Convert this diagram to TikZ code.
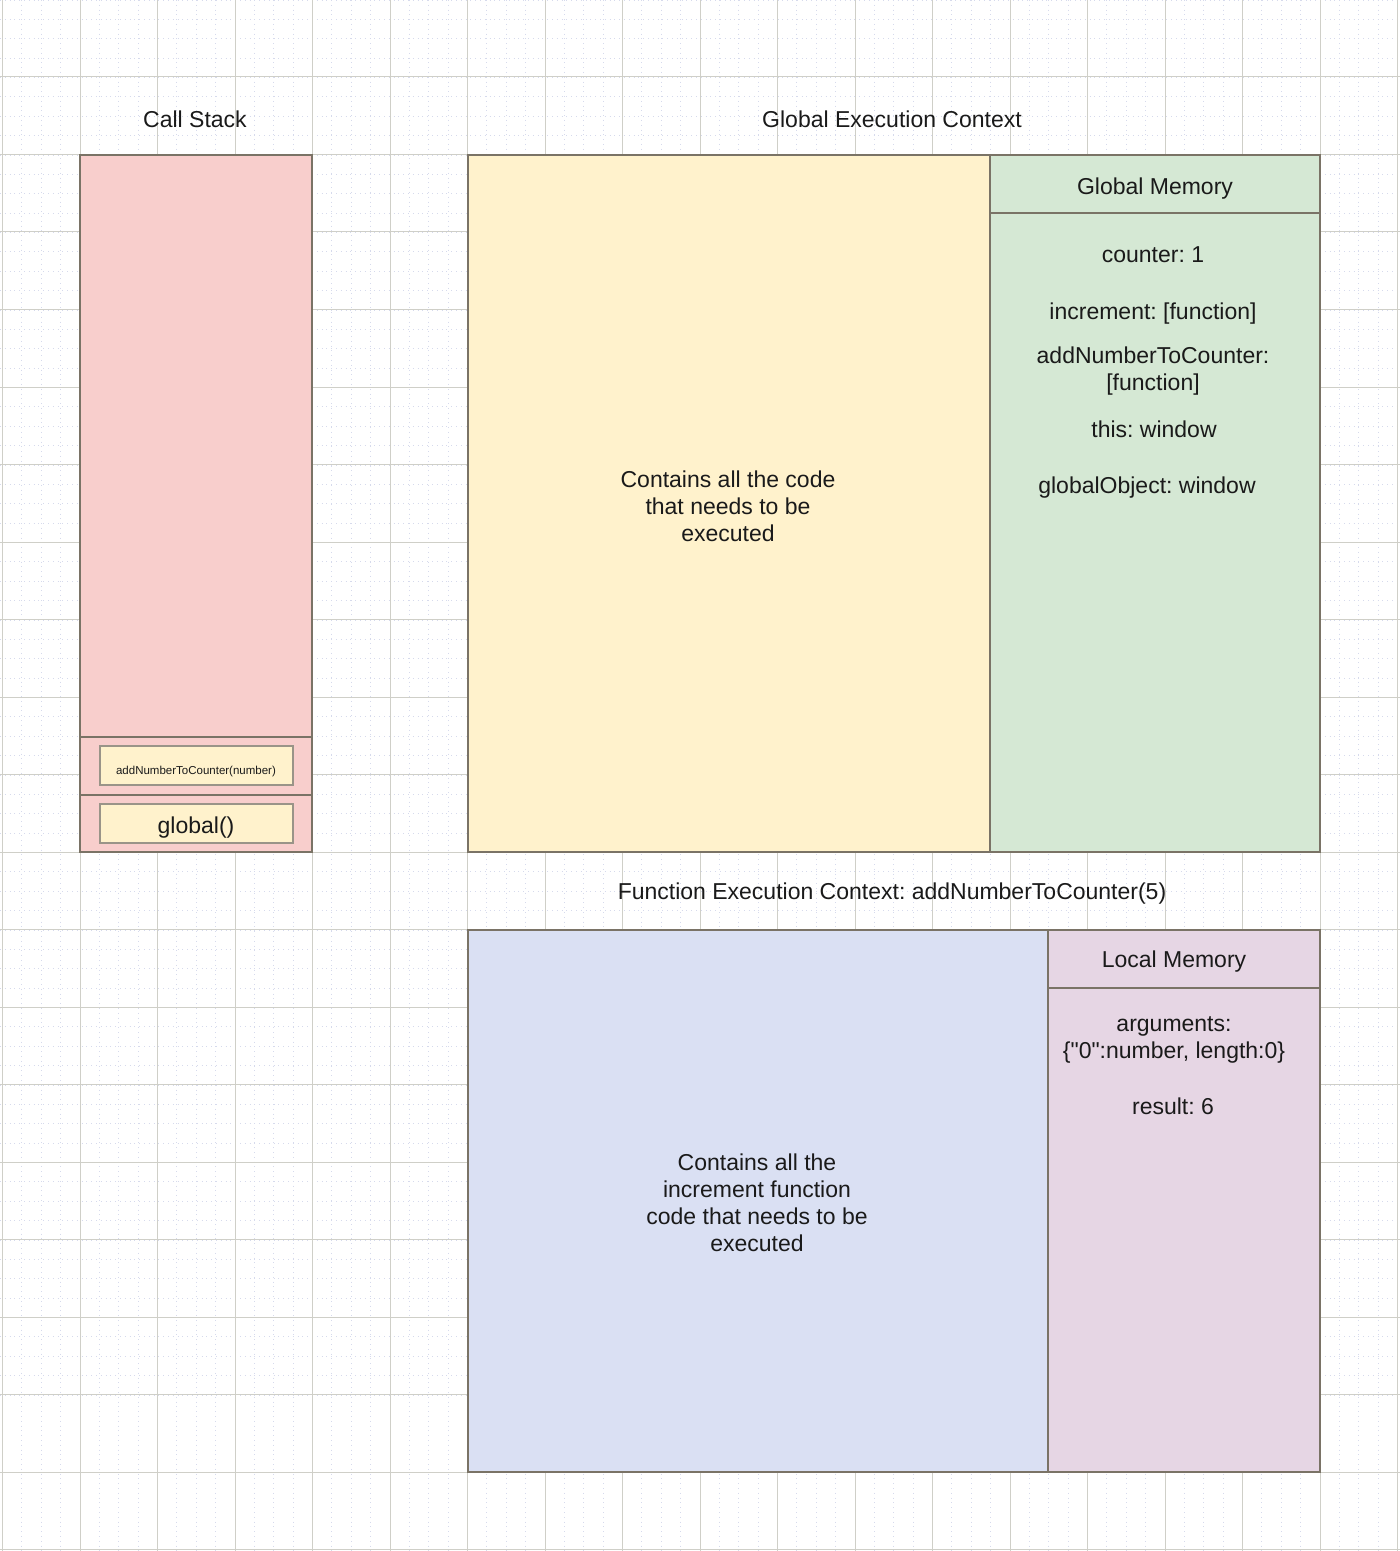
\documentclass[tikz,border=0pt]{standalone}
\usepackage{fontspec}
\setmainfont{Liberation Sans}
\newfontfamily\qfont{Liberation Sans}
\definecolor{strokec}{HTML}{7A7366}
\definecolor{innerstroke}{HTML}{9A9488}
\definecolor{pinkc}{HTML}{F8CECC}
\definecolor{yellowc}{HTML}{FFF2CC}
\definecolor{greenc}{HTML}{D5E8D4}
\definecolor{bluec}{HTML}{DAE0F3}
\definecolor{mixc}{HTML}{E6D6E4}
\definecolor{majorgrid}{HTML}{CFCFC8}
\definecolor{minorgrid}{HTML}{D6DAEC}
\definecolor{txt}{HTML}{1A1A1A}
\frenchspacing
\begin{document}
\begin{tikzpicture}[x=0.5pt,y=-0.5pt,
  box/.style={draw=strokec, line width=0.75pt},
  innerbox/.style={draw=innerstroke, line width=0.6pt},
  lbl/.style={font=\fontsize{11.5}{13.5}\selectfont\frenchspacing, align=center, inner sep=0pt, text=txt},
  smalllbl/.style={font=\fontsize{5.75}{7}\selectfont, align=center, inner sep=0pt, text=txt},
  gridminor/.style={draw=minorgrid, line width=0.4pt, dotted},
  gridmajor/.style={draw=majorgrid, line width=0.5pt}]
\useasboundingbox (0,0) rectangle (1400,1551);
\fill[white] (0,0) rectangle (1400,1551);
% grid
\foreach \i in {0,...,72} {
  \draw[gridminor] ({2.5+19.375*\i},0) -- ({2.5+19.375*\i},1551);
  \draw[gridminor] (0,{19.375*\i}) -- (1400,{19.375*\i});
}
\foreach \i in {0,...,18} {
  \draw[gridmajor] ({2.5+77.5*\i},0) -- ({2.5+77.5*\i},1551);
}
\foreach \i in {1,...,20} {
  \draw[gridmajor] (0,{77.5*\i-0.5}) -- (1400,{77.5*\i-0.5});
}
% call stack
\draw[box, fill=pinkc] (80,155) rectangle (312,737);
\draw[box, fill=pinkc] (80,737) rectangle (312,795);
\draw[box, fill=pinkc] (80,795) rectangle (312,852);
\draw[innerbox, fill=yellowc] (100,746) rectangle (293,785);
\draw[innerbox, fill=yellowc] (100,804) rectangle (293,843);
\node[smalllbl] (frameadd) at (196,772) {addNumberToCounter(number)};
\node[lbl] (frameglobal) at (196,828) {global()};
\node[lbl] (cstitle) at (195,119) {Call Stack};
% global execution context
\node[lbl] (gectitle) at (892,119) {Global Execution Context};
\draw[box, fill=yellowc] (468,155) rectangle (990,852);
\node[lbl] (gcode) at (728,506) {Contains all the code\\that needs to be\\executed};
\draw[box, fill=greenc] (990,155) rectangle (1320,213);
\draw[box, fill=greenc] (990,213) rectangle (1320,852);
\node[lbl] (gmtitle) at (1155,189) {Global Memory};
\node[lbl] (gm1) at (1153,255) {counter: 1};
\node[lbl] (gm2) at (1153,314) {increment: [function]};
\node[lbl] (gm3) at (1153,371) {addNumberToCounter:\\{}[function]};
\node[lbl] (gm4) at (1154,429) {this: window};
\node[lbl] (gm5) at (1147,488) {globalObject: window};
% function execution context
\node[lbl] (fectitle) at (892,894) {Function Execution Context: addNumberToCounter(5)};
\draw[box, fill=bluec] (468,930) rectangle (1048,1472);
\node[lbl] (fcode) at (757,1203) {Contains all the\\increment function\\code that needs to be\\executed};
\draw[box, fill=mixc] (1048,930) rectangle (1320,988);
\draw[box, fill=mixc] (1048,988) rectangle (1320,1472);
\node[lbl] (lmtitle) at (1174,962) {Local Memory};
\node[lbl] (lm1) at (1174,1040) {\qfont arguments:\\\qfont\{"0":number, length:0\}};
\node[lbl] (lm2) at (1173,1106) {result: 6};
\end{tikzpicture}
\end{document}
